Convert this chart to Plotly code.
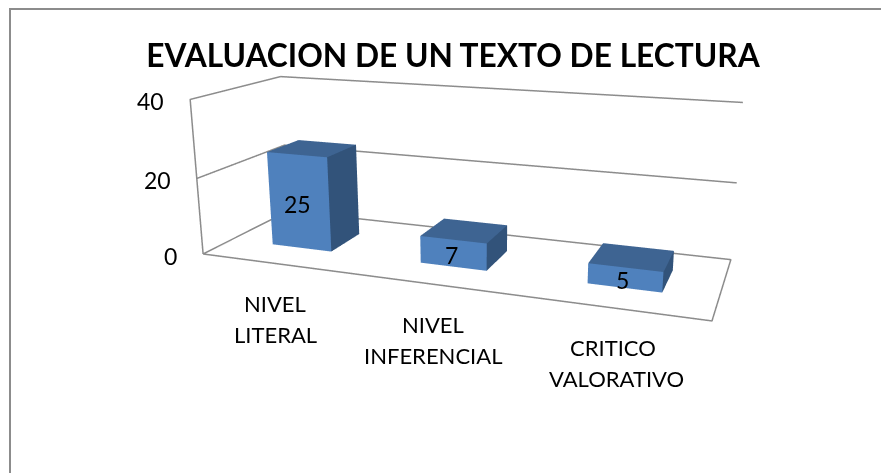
import plotly.graph_objects as go

title = "EVALUACION DE UN TEXTO DE LECTURA"
categories = [("NIVEL", "LITERAL"), ("NIVEL", "INFERENCIAL"), ("CRITICO", "VALORATIVO")]
values = [25, 7, 5]
ticks = [0, 20, 40]

FRONT, TOP, SIDE = "#4F81BD", "#3E6492", "#32537A"
GRID = "#8C8C8C"
half_w, y0, y1 = 0.205, 0.31, 0.69

# The scene's field of view is fixed, so the figure is taller than the window
# and offset to give the reference's focal length and principal point.
FIG_W, FIG_H, TOP_OFFSET = 958, 774, -189
def px(x): return x / FIG_W
def py(y): return 1 - (y - TOP_OFFSET) / FIG_H

fig = go.Figure()
for i, v in enumerate(values):
    xs = [i - half_w, i + half_w, i + half_w, i - half_w] * 2
    ys = [y0, y0, y1, y1] * 2
    zs = [0] * 4 + [v] * 4
    tris = [(0, 1, 5), (0, 5, 4), (4, 5, 6), (4, 6, 7), (1, 2, 6), (1, 6, 5)]
    cols = [FRONT, FRONT, TOP, TOP, SIDE, SIDE]
    fig.add_trace(go.Mesh3d(x=xs, y=ys, z=zs,
                            i=[t[0] for t in tris], j=[t[1] for t in tris], k=[t[2] for t in tris],
                            facecolor=cols, flatshading=True, hoverinfo="skip",
                            lighting=dict(ambient=1, diffuse=0, specular=0, fresnel=0, roughness=1)))

xl, xr, zt = -0.5, 2.5, ticks[-1]
paths = [
    ([xl, xr, xr, xl, xl], [0, 0, 1, 1, 0], [0, 0, 0, 0, 0]),
    ([xl, xl, xl], [0, 0, 1], [0, zt, zt]),
    ([xl, xr], [1, 1], [zt, zt]),
    ([xl, xl, xr], [0, 1, 1], [ticks[1], ticks[1], ticks[1]]),
]
for lx, ly, lz in paths:
    fig.add_trace(go.Scatter3d(x=lx, y=ly, z=lz, mode="lines", hoverinfo="skip",
                               line=dict(color=GRID, width=3)))

ann = []
for t in ticks:
    ann.append(dict(x=xl, y=0, z=t, text=str(t), showarrow=False, xanchor="right", xshift=-24, yshift=-2,
                    font=dict(size=23, color="black", family="Lato")))
for i, ((line1, line2), v) in enumerate(zip(categories, values)):
    ann.append(dict(x=i, y=0, z=0, text=line1, showarrow=False, yshift=-40,
                    font=dict(size=22, color="black", family="Lato")))
    ann.append(dict(x=i, y=0, z=0, text=line2, showarrow=False, yshift=-71, xshift=4 if i == 2 else 0,
                    font=dict(size=22, color="black", family="Lato")))
    ann.append(dict(x=i, y=y0, z=v / 2, text=str(v), showarrow=False, xshift=-2, yshift=-2,
                    font=dict(size=23, color="black", family="Lato")))

# Ranges padded symmetrically so the outline is not clipped at the scene bounds;
# the aspect ratio grows with them so that the scale stays the same.
PAD = 0.02
ax = dict(visible=False, showgrid=False, showbackground=False)
fig.update_layout(
    width=FIG_W, height=FIG_H, margin=dict(l=0, r=0, t=0, b=0), showlegend=False,
    paper_bgcolor="white",
    title=dict(text="<b>" + title + "</b>", x=px(453), y=py(56), xanchor="center", yanchor="middle",
               font=dict(size=31.7, color="black", family="Lato")),
    scene=dict(
        domain=dict(x=[0, 1], y=[0, 1]),
        xaxis=dict(ax, range=[xl - 3 * PAD, xr + 3 * PAD]),
        yaxis=dict(ax, range=[-PAD, 1 + PAD]),
        zaxis=dict(ax, range=[-zt * PAD, zt * (1 + PAD)]),
        aspectmode="manual",
        aspectratio=dict(x=1 + 2 * PAD, y=0.3255 * (1 + 2 * PAD), z=0.313 * (1 + 2 * PAD)),
        camera=dict(eye=dict(x=0.626, y=-1.6455, z=0.4555),
                    center=dict(x=0.030, y=0.0012, z=-0.0325),
                    up=dict(x=0, y=0, z=1)),
        annotations=ann,
    ),
    shapes=[dict(type="path", xref="paper", yref="paper",
                 path=f"M {px(10)} {py(480)} L {px(10)} {py(9)} L {px(958)} {py(9)}",
                 line=dict(color=GRID, width=2))],
)
post = ("document.documentElement.style.overflow='hidden';"
        "document.body.style.overflow='hidden';"
        f"document.body.style.margin='{TOP_OFFSET}px 0 0 0';")
fig.write_html("out.html", post_script=post)
